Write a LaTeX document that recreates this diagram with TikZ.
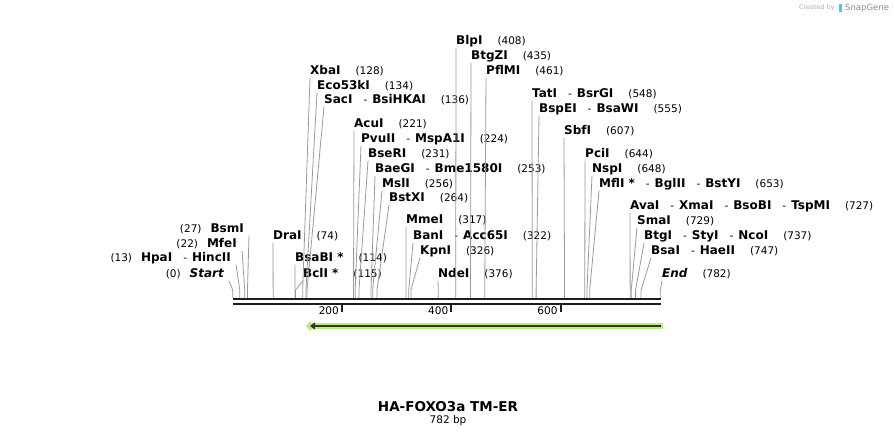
\documentclass[tikz,border=0pt]{standalone}
\usepackage{fontspec}
\setmainfont{DejaVu Sans}
\usetikzlibrary{arrows.meta,positioning}

\definecolor{leadgray}{HTML}{9A9A9A}
\definecolor{mapblack}{HTML}{1E1E1E}
\definecolor{featgreen}{RGB}{182,240,124}
\definecolor{featdark}{HTML}{333333}
\definecolor{logoblue}{HTML}{5CB9F0}

\newcommand{\enz}[1]{{\fontsize{12}{12}\selectfont\bfseries #1}}
\newcommand{\enzit}[1]{{\fontsize{12}{12}\selectfont\bfseries\itshape #1}}
\newcommand{\gapnum}{\hspace{15pt}}
\newcommand{\enzsep}{\hspace{11pt}-\hspace{5pt}}

\begin{document}
\begin{tikzpicture}[x=1pt,y=-1pt,
    lbl/.style={inner sep=0pt,text height=8.5pt,text depth=2.5pt,
      font=\fontsize{10.5}{12}\selectfont,text=black},
    lead/.style={draw=leadgray,line width=0.8pt},
    tick/.style={draw=mapblack,line width=2pt}]
  \useasboundingbox (0,0) rectangle (895,438);

  % enzymes to the right of their lines
  \node[lbl,anchor=west] (xba)  at (310,72)  {\enz{XbaI}\gapnum(128)};
  \node[lbl,anchor=west] (eco)  at (317,87)  {\enz{Eco53kI}\gapnum(134)};
  \node[lbl,anchor=west] (sac)  at (324,101) {\enz{SacI}\enzsep\enz{BsiHKAI}\gapnum(136)};
  \node[lbl,anchor=west] (acu)  at (354,125) {\enz{AcuI}\gapnum(221)};
  \node[lbl,anchor=west] (pvu)  at (361,140) {\enz{PvuII}\enzsep\enz{MspA1I}\gapnum(224)};
  \node[lbl,anchor=west] (bser) at (368,155) {\enz{BseRI}\gapnum(231)};
  \node[lbl,anchor=west] (baeg) at (375,170) {\enz{BaeGI}\enzsep\enz{Bme1580I}\gapnum(253)};
  \node[lbl,anchor=west] (msl)  at (382,185) {\enz{MslI}\gapnum(256)};
  \node[lbl,anchor=west] (bstx) at (389,199) {\enz{BstXI}\gapnum(264)};
  \node[lbl,anchor=west] (mme)  at (406,221) {\enz{MmeI}\gapnum(317)};
  \node[lbl,anchor=west] (ban)  at (413,237) {\enz{BanI}\enzsep\enz{Acc65I}\gapnum(322)};
  \node[lbl,anchor=west] (kpn)  at (420,252) {\enz{KpnI}\gapnum(326)};
  \node[lbl,anchor=west] (nde)  at (438,275) {\enz{NdeI}\gapnum(376)};
  \node[lbl,anchor=west] (blp)  at (456,42)  {\enz{BlpI}\gapnum(408)};
  \node[lbl,anchor=west] (btgz) at (471,57)  {\enz{BtgZI}\gapnum(435)};
  \node[lbl,anchor=west] (pflm) at (486,72)  {\enz{PflMI}\gapnum(461)};
  \node[lbl,anchor=west] (tat)  at (532,95)  {\enz{TatI}\enzsep\enz{BsrGI}\gapnum(548)};
  \node[lbl,anchor=west] (bspe) at (539,110) {\enz{BspEI}\enzsep\enz{BsaWI}\gapnum(555)};
  \node[lbl,anchor=west] (sbf)  at (564,132) {\enz{SbfI}\gapnum(607)};
  \node[lbl,anchor=west] (pci)  at (585,155) {\enz{PciI}\gapnum(644)};
  \node[lbl,anchor=west] (nsp)  at (592,170) {\enz{NspI}\gapnum(648)};
  \node[lbl,anchor=west] (mfl)  at (599,185) {\enz{MflI *}\enzsep\enz{BglII}\enzsep\enz{BstYI}\gapnum(653)};
  \node[lbl,anchor=west] (ava)  at (630,207) {\enz{AvaI}\enzsep\enz{XmaI}\enzsep\enz{BsoBI}\enzsep\enz{TspMI}\gapnum(727)};
  \node[lbl,anchor=west] (sma)  at (637,222) {\enz{SmaI}\gapnum(729)};
  \node[lbl,anchor=west] (btgi) at (644,237) {\enz{BtgI}\enzsep\enz{StyI}\enzsep\enz{NcoI}\gapnum(737)};
  \node[lbl,anchor=west] (bsai) at (651,252) {\enz{BsaI}\enzsep\enz{HaeII}\gapnum(747)};
  \node[lbl,anchor=west] (dra)  at (273,237) {\enz{DraI}\gapnum(74)};
  \node[lbl,anchor=west] (bsab) at (295,259) {\enz{BsaBI *}\gapnum(114)};
  \node[lbl,anchor=west] (bcl)  at (303,275) {\enz{BclI *}\gapnum(115)};
  \node[lbl,anchor=west] (endm) at (662,275) {\enzit{End}\gapnum(782)};

  % enzymes to the left of their lines
  \node[lbl,anchor=east] (bsm)    at (244,230) {(27)\hspace{9pt}\enz{BsmI}};
  \node[lbl,anchor=east] (mfe)    at (237,245) {(22)\hspace{9pt}\enz{MfeI}};
  \node[lbl,anchor=east] (hpa)    at (231,259) {(13)\hspace{9pt}\enz{HpaI}\enzsep\enz{HincII}};
  \node[lbl,anchor=east] (startm) at (224,275) {(0)\hspace{9pt}\enzit{Start}};

  % cut sites on the map
  \foreach \n/\b in {xba/128,eco/134,sac/136,acu/221,pvu/224,bser/231,baeg/253,
      msl/256,bstx/264,mme/317,ban/322,kpn/326,nde/376,blp/408,btgz/435,pflm/461,
      tat/548,bspe/555,sbf/607,pci/644,nsp/648,mfl/653,ava/727,sma/729,btgi/737,
      bsai/747,dra/74,bsab/114,bcl/115,endm/782,bsm/27,mfe/22,hpa/13,startm/0}
    \coordinate (c\n) at ({232.7+0.5467*\b},298);

  \foreach \n in {xba,eco,sac,acu,pvu,bser,baeg,msl,bstx,mme,ban,kpn,nde,blp,
      btgz,pflm,tat,bspe,sbf,pci,nsp,mfl,ava,sma,btgi,bsai,dra,bsab,bcl,endm}
    \draw[lead] (\n.south west) -- ([yshift=8pt]c\n) -- (c\n);
  \foreach \n in {bsm,mfe,hpa,startm}
    \draw[lead] ([xshift=5pt]\n.south east) -- ([yshift=8pt]c\n) -- (c\n);

  % the sequence
  \coordinate (m0) at (232.7,299.5);
  \coordinate (m1) at (661,299.5);
  \draw[mapblack,line width=2pt] (m0) -- (m1);
  \draw[mapblack,line width=2.4pt] ([yshift=-4.5pt]m0) -- ([yshift=-4.5pt]m1);

  % ruler
  \foreach \t in {200,400,600} {
    \draw[tick] ({232.7+0.5467*\t},305.5) -- ++(0,7);
    \node[lbl,anchor=east] (r\t) at ({232.7+0.5467*\t-3},312) {\t};
  }

  % feature
  \coordinate (fs) at (662.5,326);
  \coordinate (fe) at (306,326);
  \draw[featgreen,line width=6pt,-{Triangle[length=5pt,width=11pt]}] (fs) -- (fe);
  \draw[featdark,line width=2pt,-{Triangle[length=5pt,width=7pt]}] ([xshift=-1.5pt]fs) -- ([xshift=4pt]fe);

  % title
  \node[font=\fontsize{13.5}{14}\selectfont\bfseries,inner sep=1pt] (title) at (448,407) {HA-FOXO3a TM-ER};
  \node[font=\fontsize{10.5}{12}\selectfont,inner sep=1pt,below=1pt of title] (len) {782 bp};

  % credit
  \node[font=\fontsize{6.5}{7}\selectfont,text=black!30,anchor=east,inner sep=0pt] (made) at (835,8) {Created by};
  \fill[logoblue] (838.5,4) rectangle (841.5,12);
  \node[font=\fontsize{8.5}{9}\selectfont,text=black!45,anchor=west,inner sep=0pt] (snap) at (845,8) {SnapGene};
\end{tikzpicture}
\end{document}
